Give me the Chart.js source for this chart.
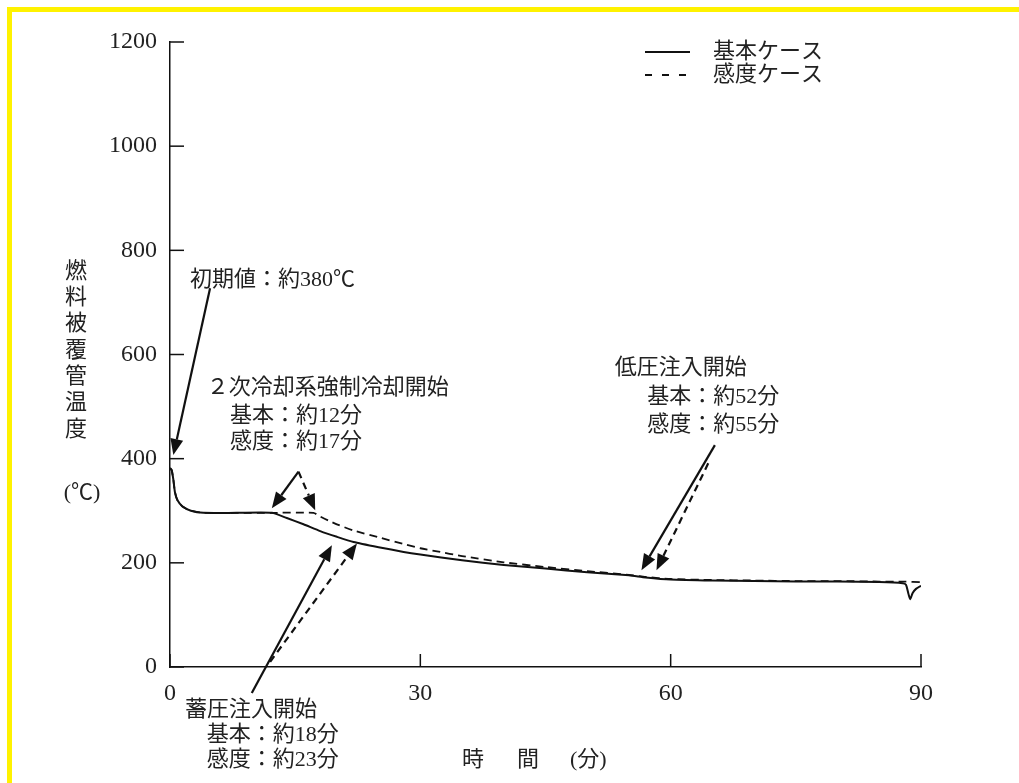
<!DOCTYPE html>
<html>
<head>
<meta charset="utf-8">
<script src="https://cdn.jsdelivr.net/npm/chart.js@4.4.1/dist/chart.umd.min.js"></script>
<style>
  body { margin: 0; background: #fff; }
  #wrap { width: 1019px; height: 783px; }
</style>
</head>
<body>
<div id="wrap"><canvas id="temp-chart" width="1019" height="783"></canvas></div>
<script>
// time (min) and cladding temperature (degC)
var baseTime = [0, 0.2, 0.4, 0.6, 0.9, 1.5, 2.5, 4, 8, 12.2, 14, 16, 18, 20, 22, 25, 28, 30, 35, 40, 45, 50, 55, 57, 60, 65, 70, 75, 80, 85, 87.8, 88.2, 88.5, 88.7, 89, 89.4, 90];
var baseTemp = [382, 378, 360, 335, 320, 308, 300, 296, 296, 296, 286, 274, 261, 250, 240, 230, 221, 216, 205, 196, 189, 182, 176, 172, 168, 166, 165, 164, 164, 163, 161, 158, 140, 130, 142, 150, 156];

var sensTime = [0, 0.2, 0.4, 0.6, 0.9, 1.5, 2.5, 4, 8, 12.2, 17.2, 18, 19, 20, 22, 25, 28, 30, 32, 35, 40, 45, 50, 55, 57, 60, 65, 70, 75, 80, 85, 88, 90];
var sensTemp = [382, 378, 360, 335, 320, 308, 300, 296, 296, 296, 296, 289, 281, 274, 262, 249, 236, 228, 222, 213, 201, 192, 184, 177, 173, 169, 167, 166, 165, 165, 164, 164, 163];

var xTicks = [0, 30, 60, 90];
var yTicks = [0, 200, 400, 600, 800, 1000, 1200];

var seriesNames = ['基本ケース', '感度ケース'];
var yTitle = ['燃', '料', '被', '覆', '管', '温', '度'];

// annotation texts [text, time, temp] (left edge, middle)
var notes = [
  ['初期値：約380℃', 2.4, 743],
  ['２次冷却系強制冷却開始', 4.4, 535],
  ['基本：約12分', 7.2, 482],
  ['感度：約17分', 7.2, 432],
  ['蓄圧注入開始', 1.8, -83],
  ['基本：約18分', 4.4, -131],
  ['感度：約23分', 4.4, -179],
  ['低圧注入開始', 53.3, 574],
  ['基本：約52分', 57.2, 518],
  ['感度：約55分', 57.2, 464]
];
// arrows [tailTime, tailTemp, headTime, headTemp, dashed]
var arrows = [
  [4.8, 727, 0.4, 407, false],
  [15.4, 375, 12.2, 305, false],
  [15.4, 375, 17.4, 301, true],
  [9.8, -50, 19.4, 234, false],
  [12.0, 10, 22.4, 237, true],
  [65.3, 426, 56.5, 186, false],
  [64.5, 391, 58.3, 186, true]
];

function toPoints(xs, ys) {
  var out = [];
  for (var i = 0; i < xs.length; i++) out.push({x: xs[i], y: ys[i]});
  return out;
}

var INK = '#111';
var JP = '"Liberation Serif", "Noto Sans CJK JP", serif';

function drawArrow(ctx, x0, y0, x1, y1, dashed) {
  var ang = Math.atan2(y1 - y0, x1 - x0);
  var len = 16, half = 6.5;
  var bx = x1 - len * Math.cos(ang), by = y1 - len * Math.sin(ang);
  ctx.save();
  ctx.strokeStyle = INK;
  ctx.fillStyle = INK;
  ctx.lineWidth = 2.2;
  ctx.setLineDash(dashed ? [7, 5] : []);
  ctx.beginPath();
  ctx.moveTo(x0, y0);
  ctx.lineTo(bx, by);
  ctx.stroke();
  ctx.setLineDash([]);
  ctx.beginPath();
  ctx.moveTo(x1, y1);
  ctx.lineTo(bx + half * Math.sin(ang), by - half * Math.cos(ang));
  ctx.lineTo(bx - half * Math.sin(ang), by + half * Math.cos(ang));
  ctx.closePath();
  ctx.fill();
  ctx.restore();
}

var decor = {
  id: 'decor',
  beforeDraw: function(chart) {
    var ctx = chart.ctx;
    ctx.save();
    ctx.fillStyle = '#fff';
    ctx.fillRect(0, 0, chart.width, chart.height);
    ctx.fillStyle = '#fff200';
    ctx.fillRect(7, 7, chart.width - 7, 5);
    ctx.fillRect(7, 7, 5, chart.height - 7);
    ctx.restore();
  },
  afterDatasetsDraw: function(chart) {
    var ctx = chart.ctx;
    var xs = chart.scales.x, ys = chart.scales.y;
    var area = chart.chartArea;
    ctx.save();
    // inward tick marks
    ctx.strokeStyle = INK;
    ctx.lineWidth = 1.5;
    yTicks.forEach(function(v) {
      var py = ys.getPixelForValue(v);
      ctx.beginPath();
      ctx.moveTo(area.left, py);
      ctx.lineTo(area.left + 14, py);
      ctx.stroke();
    });
    xTicks.forEach(function(v) {
      var px = xs.getPixelForValue(v);
      ctx.beginPath();
      ctx.moveTo(px, area.bottom);
      ctx.lineTo(px, area.bottom - 13);
      ctx.stroke();
    });

    // annotations
    ctx.fillStyle = '#222';
    ctx.font = '22px ' + JP;
    ctx.textBaseline = 'middle';
    ctx.textAlign = 'left';
    notes.forEach(function(n) {
      ctx.fillText(n[0], xs.getPixelForValue(n[1]), ys.getPixelForValue(n[2]));
    });
    arrows.forEach(function(a) {
      drawArrow(ctx, xs.getPixelForValue(a[0]), ys.getPixelForValue(a[1]),
                xs.getPixelForValue(a[2]), ys.getPixelForValue(a[3]), a[4]);
    });

    // legend
    var lx = area.left + 475, ly = area.top + 10;
    chart.data.datasets.forEach(function(ds, i) {
      var y = ly + i * 23;
      ctx.strokeStyle = INK;
      ctx.lineWidth = 2;
      ctx.setLineDash(i === 1 ? [7, 10] : []);
      ctx.beginPath();
      ctx.moveTo(lx, y);
      ctx.lineTo(lx + 45, y);
      ctx.stroke();
      ctx.setLineDash([]);
      ctx.fillStyle = '#222';
      ctx.fillText(ds.label, lx + 68, y);
    });

    // axis titles
    ctx.textAlign = 'center';
    yTitle.forEach(function(c, i) {
      ctx.fillText(c, 76, 272 + i * 26.3);
    });
    ctx.fillText('(℃)', 82, 493);
    ctx.textAlign = 'left';
    ctx.fillText('時', 462, 760);
    ctx.fillText('間', 517, 760);
    ctx.fillText('(分)', 570, 760);
    ctx.restore();
  }
};

new Chart(document.getElementById('temp-chart'), {
  type: 'line',
  data: {
    datasets: [
      {
        label: seriesNames[0],
        data: toPoints(baseTime, baseTemp),
        borderColor: INK,
        borderWidth: 2,
        pointRadius: 0,
        tension: 0.2,
        fill: false
      },
      {
        label: seriesNames[1],
        data: toPoints(sensTime, sensTemp),
        borderColor: INK,
        borderWidth: 1.8,
        borderDash: [8, 5],
        pointRadius: 0,
        tension: 0.2,
        fill: false
      }
    ]
  },
  options: {
    responsive: false,
    animation: false,
    layout: { padding: { top: 42, right: 98, left: 0, bottom: 0 } },
    plugins: {
      legend: { display: false },
      tooltip: { enabled: false }
    },
    scales: {
      x: {
        type: 'linear',
        min: 0,
        max: 90,
        afterFit: function(s) { s.height = 116; },
        afterBuildTicks: function(s) { s.ticks = xTicks.map(function(v) { return {value: v}; }); },
        grid: { drawOnChartArea: false, drawTicks: false },
        border: { color: INK, width: 1.5 },
        ticks: {
          color: '#222', padding: 12, maxRotation: 0,
          font: { family: 'Liberation Serif', size: 24 },
          callback: function(v) { return String(v); }
        }
      },
      y: {
        min: 0,
        max: 1200,
        afterFit: function(s) { s.width = 170; },
        afterBuildTicks: function(s) { s.ticks = yTicks.map(function(v) { return {value: v}; }); },
        grid: { drawOnChartArea: false, drawTicks: false },
        border: { color: INK, width: 1.5 },
        ticks: {
          color: '#222', padding: 13,
          font: { family: 'Liberation Serif', size: 24 },
          callback: function(v) { return String(v); }
        }
      }
    }
  },
  plugins: [decor]
});
</script>
</body>
</html>
